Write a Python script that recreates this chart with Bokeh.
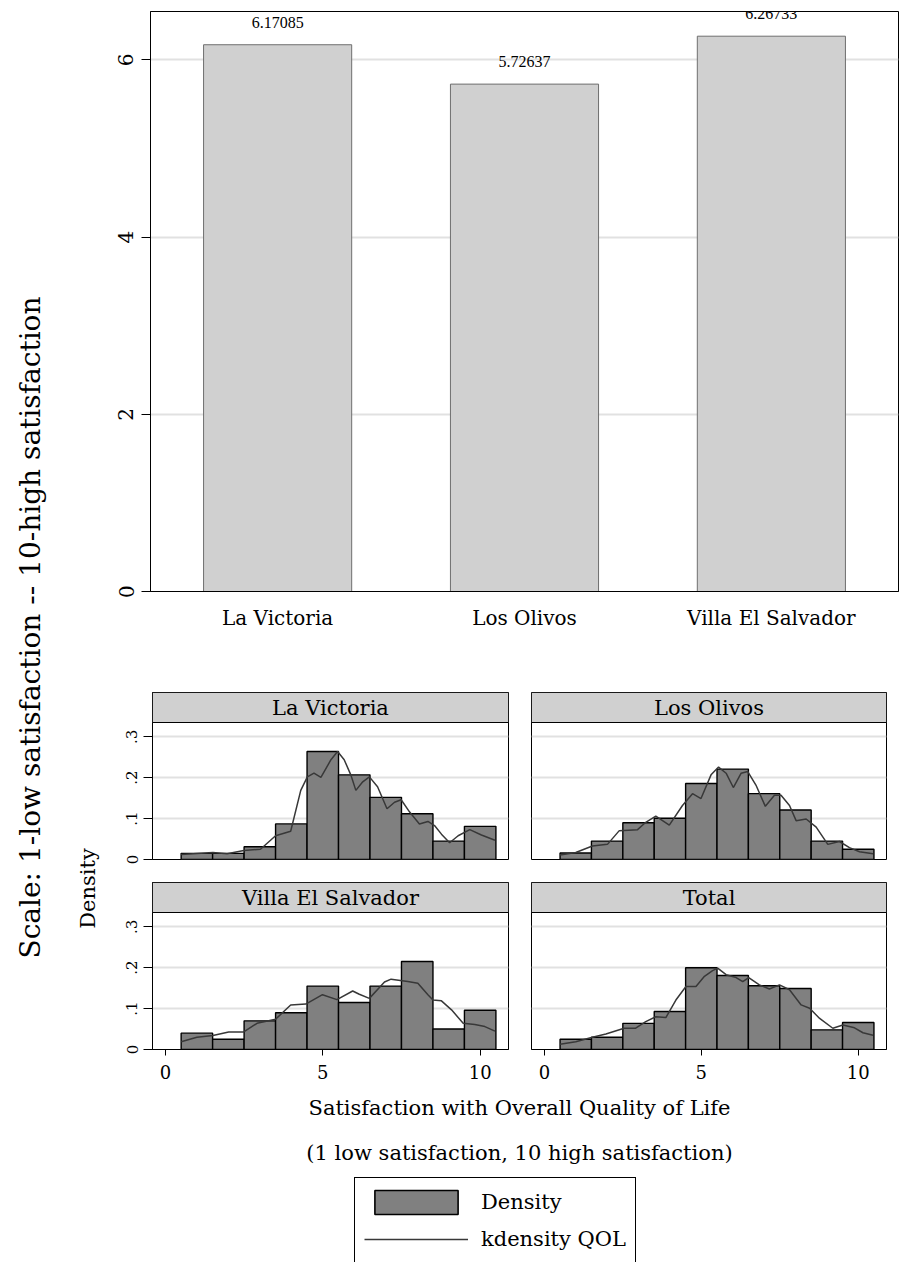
import numpy as np
from bokeh.plotting import figure
from bokeh.models import (Range1d, FactorRange, FixedTicker, Label, LabelSet, BoxAnnotation,
                          Legend, LegendItem, ColumnDataSource)
from bokeh.layouts import row, column
from bokeh.embed import file_html
from bokeh.resources import INLINE

# ---------------- data ----------------
districts = ["La Victoria", "Los Olivos", "Villa El Salvador"]
mean_qol = [6.17085, 5.72637, 6.26733]
mean_qol_text = ["6.17085", "5.72637", "6.26733"]

bar_ticks = [0, 2, 4, 6]

bin_left = [0.5, 1.5, 2.5, 3.5, 4.5, 5.5, 6.5, 7.5, 8.5, 9.5]
bin_right = [1.5, 2.5, 3.5, 4.5, 5.5, 6.5, 7.5, 8.5, 9.5, 10.5]

dens_lv = [0.015, 0.015, 0.031, 0.087, 0.264, 0.207, 0.152, 0.112, 0.045, 0.081]
dens_lo = [0.016, 0.045, 0.090, 0.101, 0.186, 0.221, 0.161, 0.121, 0.045, 0.025]
dens_ves = [0.040, 0.025, 0.070, 0.090, 0.155, 0.115, 0.155, 0.215, 0.050, 0.096]
dens_tot = [0.025, 0.030, 0.064, 0.093, 0.200, 0.181, 0.156, 0.149, 0.048, 0.066]

kde_lv_x = [0.5, 1.51, 1.96, 2.49, 3.02, 3.5, 3.98, 4.30, 4.51, 4.72, 4.94, 5.26, 5.47, 5.68, 5.89,
            6.05, 6.27, 6.48, 6.74, 7.04, 7.28, 7.49, 7.76, 8.07, 8.34, 8.55, 8.77, 9.03, 9.30,
            9.67, 10.04, 10.47]
kde_lv_y = [0.012, 0.017, 0.014, 0.022, 0.025, 0.058, 0.069, 0.169, 0.202, 0.211, 0.201, 0.244,
            0.264, 0.244, 0.207, 0.169, 0.190, 0.202, 0.178, 0.124, 0.140, 0.146, 0.116, 0.087,
            0.093, 0.083, 0.062, 0.041, 0.058, 0.073, 0.060, 0.047]

kde_lo_x = [0.5, 1.0, 1.53, 2.01, 2.38, 2.97, 3.23, 3.55, 3.98, 4.40, 4.72, 4.99, 5.31, 5.55,
            5.79, 6.02, 6.27, 6.48, 6.74, 7.04, 7.33, 7.54, 7.81, 8.02, 8.34, 8.66, 9.03, 9.40,
            9.72, 10.04, 10.47]
kde_lo_y = [0.011, 0.017, 0.033, 0.037, 0.070, 0.073, 0.091, 0.106, 0.084, 0.132, 0.161, 0.149,
            0.207, 0.226, 0.211, 0.176, 0.211, 0.215, 0.182, 0.130, 0.157, 0.157, 0.132, 0.095,
            0.099, 0.079, 0.037, 0.044, 0.029, 0.019, 0.014]

kde_ves_x = [0.5, 1.0, 1.51, 2.01, 2.49, 2.91, 3.5, 3.98, 4.46, 4.99, 5.45, 5.95, 6.16, 6.48,
             6.96, 7.17, 7.70, 8.02, 8.34, 8.50, 8.77, 9.09, 9.46, 9.83, 10.15, 10.47]
kde_ves_y = [0.019, 0.030, 0.034, 0.043, 0.043, 0.064, 0.074, 0.109, 0.111, 0.134, 0.122, 0.143,
             0.135, 0.125, 0.165, 0.172, 0.166, 0.162, 0.134, 0.121, 0.119, 0.097, 0.064, 0.061,
             0.056, 0.045]

kde_tot_x = [0.5, 1.0, 1.53, 1.96, 2.54, 2.91, 3.23, 3.55, 3.87, 4.19, 4.51, 4.83, 5.10, 5.36,
             5.52, 5.79, 6.11, 6.32, 6.51, 6.85, 7.17, 7.49, 7.81, 8.18, 8.45, 8.77, 9.19, 9.51,
             9.88, 10.15, 10.47]
kde_tot_y = [0.013, 0.019, 0.030, 0.038, 0.052, 0.052, 0.068, 0.080, 0.078, 0.121, 0.154, 0.154,
             0.179, 0.193, 0.199, 0.183, 0.176, 0.166, 0.176, 0.158, 0.148, 0.158, 0.146, 0.109,
             0.101, 0.076, 0.052, 0.060, 0.053, 0.041, 0.035]

hist_yticks = [0, 0.1, 0.2, 0.3]
hist_ytick_labels = {0: "0", 0.1: ".1", 0.2: ".2", 0.3: ".3"}
hist_xticks = [0, 5, 10]

y_title = "Scale: 1-low satisfaction -- 10-high satisfaction"
x_title = "Satisfaction with Overall Quality of Life"
x_subtitle = "(1 low satisfaction, 10 high satisfaction)"

# ---------------- style ----------------
FONT = "DejaVu Serif"
GRID = "#e1e1e1"
BAR_FILL = "#d0d0d0"
HIST_FILL = "#808080"
KDE_COLOR = "#383838"

TOTAL_W = 899
TITLE_W = 100
RIGHT_W = TOTAL_W - TITLE_W
TOTAL_H = 1262
BAR_H = 680
ROW1_H = 190
ROW2_H = 220
BOT_H = TOTAL_H - BAR_H - ROW1_H - ROW2_H
FRAME_L = 50      # left border of the bar chart (and of the bottom strip)
FRAME_R = 1


def base_fig(width, height, x_range, y_range, **kw):
    p = figure(width=width, height=height, x_range=x_range, y_range=y_range,
               output_backend="svg", toolbar_location=None, **kw)
    p.background_fill_color = "white"
    p.border_fill_color = "white"
    p.outline_line_color = "black"
    p.outline_line_width = 1
    p.outline_line_alpha = 1
    return p


# ---------------- top bar chart ----------------
bar_src = ColumnDataSource(dict(district=districts, mean=mean_qol, label=mean_qol_text))
bar = base_fig(RIGHT_W, BAR_H, FactorRange(*districts, range_padding=0.01), Range1d(0, 6.546))
bar.min_border_left = FRAME_L
bar.min_border_right = FRAME_R
bar.min_border_top = 11
bar.min_border_bottom = 89
bar.vbar(x="district", top="mean", width=0.6, source=bar_src,
         fill_color=BAR_FILL, line_color="#6e6e6e", line_width=1)
bar.add_layout(LabelSet(x="district", y="mean", text="label", source=bar_src,
                        text_align="center", text_baseline="alphabetic", y_offset=17,
                        text_font=FONT, text_font_size="16px", text_color="black"))
bar.xgrid.visible = False
bar.ygrid.ticker = FixedTicker(ticks=bar_ticks)
bar.ygrid.grid_line_color = GRID
bar.ygrid.grid_line_width = 2
bar.yaxis.ticker = FixedTicker(ticks=bar_ticks)
bar.yaxis.major_label_orientation = "vertical"
bar.yaxis.major_label_text_font = FONT
bar.yaxis.major_label_text_font_size = "20px"
bar.yaxis.major_label_text_color = "black"
bar.yaxis.major_label_standoff = 8
bar.yaxis.major_tick_out = 9
bar.yaxis.major_tick_in = 0
bar.yaxis.major_tick_line_color = "black"
bar.yaxis.minor_tick_line_color = None
bar.yaxis.axis_line_color = "black"
bar.xaxis.major_tick_line_color = None
bar.xaxis.major_tick_out = 0
bar.xaxis.major_label_standoff = 14
bar.xaxis.major_label_text_font = FONT
bar.xaxis.major_label_text_font_size = "20px"
bar.xaxis.major_label_text_color = "black"
bar.xaxis.axis_line_color = "black"

# ---------------- histogram panels ----------------
HX0, HX1 = -0.41, 10.9
YMAX = 0.335
FRAME_H = 167
STRIP_PX = 30
PLOT_PX = FRAME_H - STRIP_PX
Y_END = YMAX * FRAME_H / PLOT_PX


def hist_panel(name, dens, kx, ky, left, bottom):
    width = 419 if left else RIGHT_W - 419
    height = ROW2_H if bottom else ROW1_H
    kw = {}
    if not left:
        kw["y_axis_location"] = None
    if not bottom:
        kw["x_axis_location"] = None
    p = base_fig(width, height, Range1d(HX0, HX1), Range1d(0, Y_END), **kw)
    p.min_border_left = 52 if left else 12
    p.min_border_right = 11 if left else 13
    p.min_border_top = 12
    p.min_border_bottom = height - 12 - FRAME_H
    p.xgrid.visible = False
    p.ygrid.ticker = FixedTicker(ticks=hist_yticks)
    p.ygrid.grid_line_color = GRID
    p.ygrid.grid_line_width = 2
    p.quad(left=bin_left, right=bin_right, bottom=0, top=dens,
           fill_color=HIST_FILL, line_color="black", line_width=1.4)
    p.line(kx, ky, line_color=KDE_COLOR, line_width=1.5)
    p.add_layout(BoxAnnotation(bottom=YMAX, fill_color=BAR_FILL, fill_alpha=1,
                               line_color="black", line_width=1, line_alpha=1, level="overlay"))
    p.add_layout(Label(x=(HX0 + HX1) / 2, y=(YMAX + Y_END) / 2, text=name,
                       text_align="center", text_baseline="middle",
                       text_font=FONT, text_font_size="21px", text_color="black",
                       level="overlay"))
    if left:
        p.yaxis.ticker = FixedTicker(ticks=hist_yticks)
        p.yaxis.major_label_overrides = hist_ytick_labels
        p.yaxis.major_label_orientation = "vertical"
        p.yaxis.major_label_text_font = FONT
        p.yaxis.major_label_text_font_size = "15px"
        p.yaxis.major_label_text_color = "black"
        p.yaxis.major_label_standoff = 6
        p.yaxis.major_tick_out = 9
        p.yaxis.major_tick_in = 0
        p.yaxis.major_tick_line_color = "black"
        p.yaxis.minor_tick_line_color = None
        p.yaxis.axis_line_color = "black"
    if bottom:
        p.xaxis.ticker = FixedTicker(ticks=hist_xticks)
        p.xaxis.major_label_text_font = FONT
        p.xaxis.major_label_text_font_size = "18px"
        p.xaxis.major_label_text_color = "black"
        p.xaxis.major_label_standoff = 9
        p.xaxis.major_tick_out = 6
        p.xaxis.major_tick_in = 0
        p.xaxis.major_tick_line_color = "black"
        p.xaxis.minor_tick_line_color = None
        p.xaxis.axis_line_color = "black"
    return p


h_lv = hist_panel("La Victoria", dens_lv, kde_lv_x, kde_lv_y, True, False)
h_lo = hist_panel("Los Olivos", dens_lo, kde_lo_x, kde_lo_y, False, False)
h_ves = hist_panel("Villa El Salvador", dens_ves, kde_ves_x, kde_ves_y, True, True)
h_tot = hist_panel("Total", dens_tot, kde_tot_x, kde_tot_y, False, True)

# ---------------- bottom: titles + legend ----------------
# x range expressed in page pixels of the frame (frame spans the same columns as the bar chart)
BX0 = TITLE_W + FRAME_L
BX1 = TOTAL_W - FRAME_R
bot = figure(width=RIGHT_W, height=BOT_H, x_range=Range1d(BX0, BX1), y_range=Range1d(0, BOT_H),
             output_backend="svg", toolbar_location=None,
             x_axis_location=None, y_axis_location=None)
bot.min_border_left = FRAME_L
bot.min_border_right = FRAME_R
bot.min_border_top = 0
bot.min_border_bottom = 0
bot.outline_line_color = None
bot.xgrid.visible = False
bot.ygrid.visible = False
CENTER_X = 519
bot.add_layout(Label(x=CENTER_X, y=BOT_H - 17, text=x_title, text_align="center",
                     text_baseline="middle", text_font=FONT, text_font_size="21px",
                     text_color="black"))
bot.add_layout(Label(x=CENTER_X, y=BOT_H - 62, text=x_subtitle, text_align="center",
                     text_baseline="middle", text_font=FONT, text_font_size="21px",
                     text_color="black"))
# legend proxies (hidden in the plot, shown in the legend)
r_bar = bot.quad(left=bin_left[:1], right=bin_right[:1], top=dens_tot[:1], bottom=[0],
                 fill_color=HIST_FILL, line_color="black", line_width=1.6, visible=False)
r_kde = bot.line(x=kde_tot_x, y=kde_tot_y, line_color=KDE_COLOR, line_width=1.5, visible=False)
LEG_LEFT = 354
LEG_PAD = 9
LEG_H = 2 * LEG_PAD + 30 + 7 + 30
legend = Legend(items=[LegendItem(label="Density", renderers=[r_bar]),
                       LegendItem(label="kdensity QOL", renderers=[r_kde])],
                location=(LEG_LEFT - BX0, BOT_H - 89 - LEG_H), orientation="vertical",
                glyph_width=104, glyph_height=30, label_height=30, label_standoff=13,
                padding=LEG_PAD, spacing=7, margin=0,
                label_text_font=FONT, label_text_font_size="21px", label_text_color="black",
                border_line_color="black", border_line_width=1, border_line_alpha=1,
                background_fill_color="white", background_fill_alpha=1,
                inactive_fill_alpha=0)
bot.add_layout(legend, "center")

# ---------------- left title strip ----------------
ttl = figure(width=TITLE_W, height=TOTAL_H, x_range=Range1d(0, TITLE_W), y_range=Range1d(0, TOTAL_H),
             output_backend="svg", toolbar_location=None,
             x_axis_location=None, y_axis_location=None)
ttl.min_border = 0
ttl.outline_line_color = None
ttl.xgrid.visible = False
ttl.ygrid.visible = False
ttl.add_layout(Label(x=30, y=TOTAL_H - 627, text=y_title, angle=np.pi / 2,
                     text_align="center", text_baseline="middle",
                     text_font=FONT, text_font_size="28px", text_color="black"))
ttl.add_layout(Label(x=87, y=TOTAL_H - 888, text="Density", angle=np.pi / 2,
                     text_align="center", text_baseline="middle",
                     text_font=FONT, text_font_size="21px", text_color="black"))

layout = row(ttl, column(bar, row(h_lv, h_lo), row(h_ves, h_tot), bot))

open("out.html", "w").write(file_html(layout, INLINE))
